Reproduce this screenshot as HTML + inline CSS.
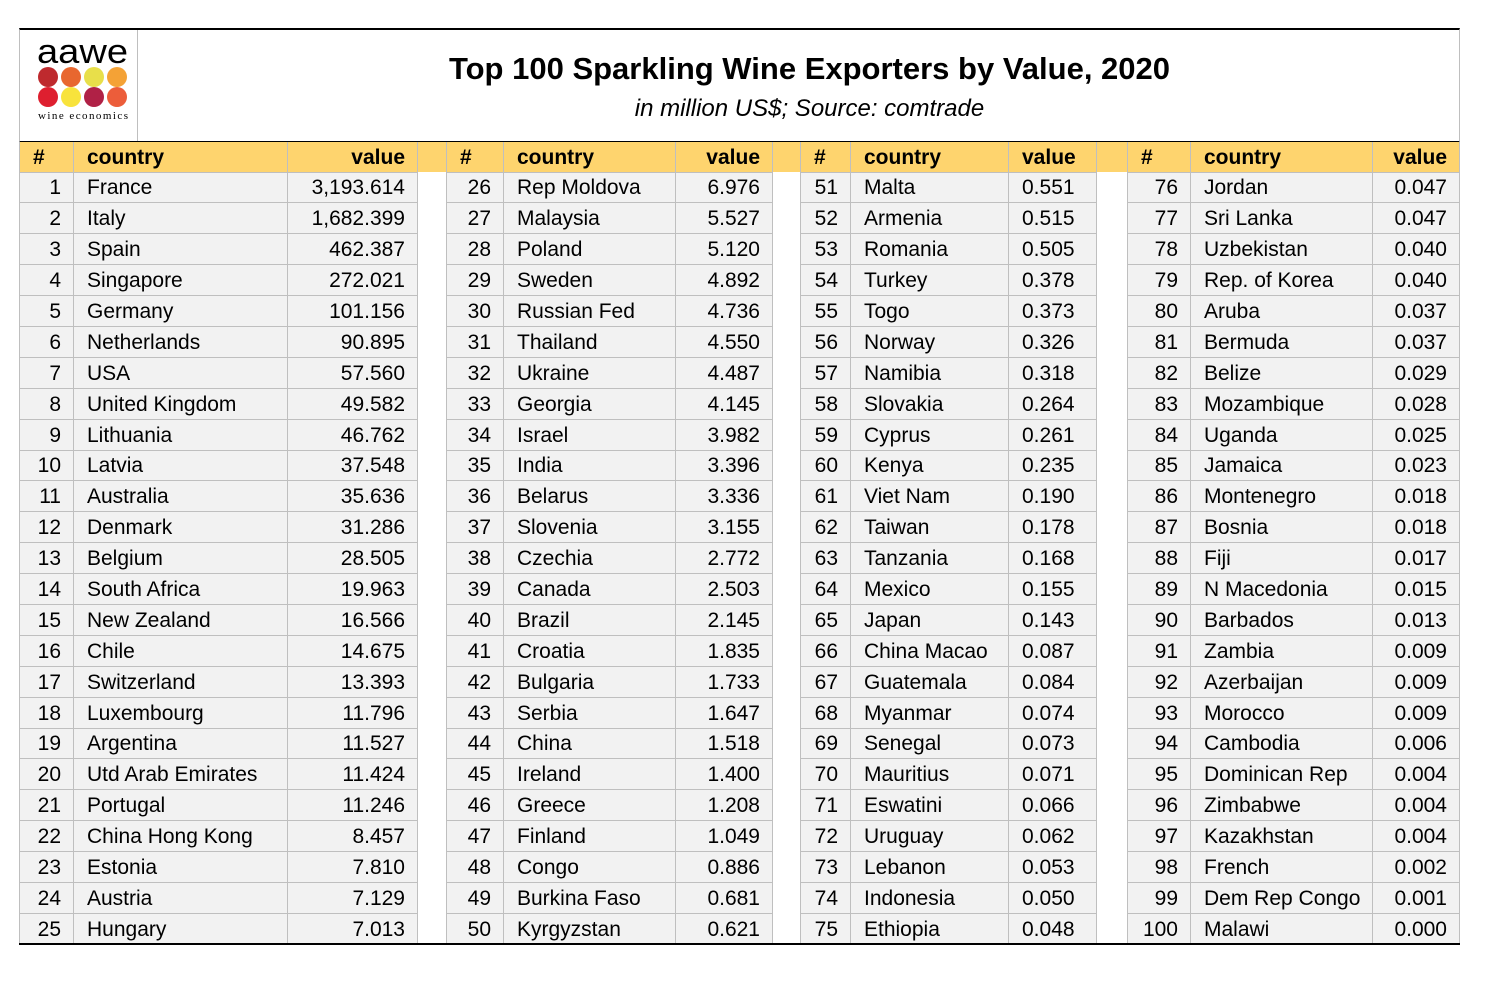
<!DOCTYPE html>
<html><head><meta charset="utf-8"><style>
body{margin:0;width:1492px;height:994px;background:#fff;position:relative;font-family:"Liberation Sans",sans-serif;overflow:hidden}
#top{position:absolute;left:19px;top:28px;width:1439px;height:111px;border-top:2px solid #000;border-left:1px solid #bfbfbf;border-right:1px solid #bfbfbf;border-bottom:2px solid #000}
#logo{position:absolute;left:0;top:0;width:117px;height:111px;border-right:1px solid #bfbfbf}
#t1{position:absolute;left:0;width:1439px;top:21px;text-align:center;font-weight:bold;font-size:31px;letter-spacing:0;padding-left:140px;box-sizing:border-box}
#t2{position:absolute;left:0;width:1439px;top:65px;text-align:center;font-style:italic;font-size:24px;padding-left:140px;box-sizing:border-box}
table{position:absolute;left:19px;top:142px;border-collapse:collapse;table-layout:fixed;width:1441px;font-size:21px;border-bottom:2px solid #000}
td{border:1px solid #bfbfbf;height:29.9px;padding:2px 12px 0 13px;box-sizing:border-box;background:#f2f2f2;white-space:nowrap;overflow:hidden;line-height:20px}
tr.h td{background:#fed46e;font-weight:bold;height:30px;border-top:none}
td{height:30.9px}
td.g{background:#fff;border-top:none;border-bottom:none}
td.n,td.v{text-align:right}
</style></head><body>
<div id="top">
<div id="logo">
<svg width="117" height="111" viewBox="0 0 117 111">
<text x="17" y="33" font-family="Liberation Sans" font-size="34" textLength="91" lengthAdjust="spacingAndGlyphs">aawe</text>
<circle cx="28" cy="47" r="10" fill="#be2a2e"/><circle cx="51" cy="47" r="10" fill="#e8672f"/><circle cx="74" cy="47" r="10" fill="#e8df4a"/><circle cx="97" cy="47" r="10" fill="#f4a236"/>
<circle cx="28" cy="67" r="10" fill="#de1f2f"/><circle cx="51" cy="67" r="10" fill="#f8e33c"/><circle cx="74" cy="67" r="10" fill="#b02146"/><circle cx="97" cy="67" r="10" fill="#ec5d3a"/>
<text x="18" y="89" font-family="Liberation Serif" font-size="11" textLength="90">wine economics</text>
</svg></div>
<div id="t1">Top 100 Sparkling Wine Exporters by Value, 2020</div>
<div id="t2">in million US$; Source: comtrade</div>
</div>
<table>
<colgroup><col style="width:54px"><col style="width:214px"><col style="width:130px"><col style="width:29px"><col style="width:57px"><col style="width:172px"><col style="width:97px"><col style="width:28px"><col style="width:50px"><col style="width:158px"><col style="width:88px"><col style="width:31px"><col style="width:63px"><col style="width:182px"><col style="width:87px"></colgroup>
<tr class="h"><td>#</td><td>country</td><td class="v">value</td><td class="g"></td><td>#</td><td>country</td><td class="v">value</td><td class="g"></td><td>#</td><td>country</td><td>value</td><td class="g"></td><td>#</td><td>country</td><td class="v">value</td></tr>
<tr><td class="n">1</td><td>France</td><td class="v">3,193.614</td><td class="g"></td><td class="n">26</td><td>Rep Moldova</td><td class="v">6.976</td><td class="g"></td><td class="n">51</td><td>Malta</td><td>0.551</td><td class="g"></td><td class="n">76</td><td>Jordan</td><td class="v">0.047</td></tr>
<tr><td class="n">2</td><td>Italy</td><td class="v">1,682.399</td><td class="g"></td><td class="n">27</td><td>Malaysia</td><td class="v">5.527</td><td class="g"></td><td class="n">52</td><td>Armenia</td><td>0.515</td><td class="g"></td><td class="n">77</td><td>Sri Lanka</td><td class="v">0.047</td></tr>
<tr><td class="n">3</td><td>Spain</td><td class="v">462.387</td><td class="g"></td><td class="n">28</td><td>Poland</td><td class="v">5.120</td><td class="g"></td><td class="n">53</td><td>Romania</td><td>0.505</td><td class="g"></td><td class="n">78</td><td>Uzbekistan</td><td class="v">0.040</td></tr>
<tr><td class="n">4</td><td>Singapore</td><td class="v">272.021</td><td class="g"></td><td class="n">29</td><td>Sweden</td><td class="v">4.892</td><td class="g"></td><td class="n">54</td><td>Turkey</td><td>0.378</td><td class="g"></td><td class="n">79</td><td>Rep. of Korea</td><td class="v">0.040</td></tr>
<tr><td class="n">5</td><td>Germany</td><td class="v">101.156</td><td class="g"></td><td class="n">30</td><td>Russian Fed</td><td class="v">4.736</td><td class="g"></td><td class="n">55</td><td>Togo</td><td>0.373</td><td class="g"></td><td class="n">80</td><td>Aruba</td><td class="v">0.037</td></tr>
<tr><td class="n">6</td><td>Netherlands</td><td class="v">90.895</td><td class="g"></td><td class="n">31</td><td>Thailand</td><td class="v">4.550</td><td class="g"></td><td class="n">56</td><td>Norway</td><td>0.326</td><td class="g"></td><td class="n">81</td><td>Bermuda</td><td class="v">0.037</td></tr>
<tr><td class="n">7</td><td>USA</td><td class="v">57.560</td><td class="g"></td><td class="n">32</td><td>Ukraine</td><td class="v">4.487</td><td class="g"></td><td class="n">57</td><td>Namibia</td><td>0.318</td><td class="g"></td><td class="n">82</td><td>Belize</td><td class="v">0.029</td></tr>
<tr><td class="n">8</td><td>United Kingdom</td><td class="v">49.582</td><td class="g"></td><td class="n">33</td><td>Georgia</td><td class="v">4.145</td><td class="g"></td><td class="n">58</td><td>Slovakia</td><td>0.264</td><td class="g"></td><td class="n">83</td><td>Mozambique</td><td class="v">0.028</td></tr>
<tr><td class="n">9</td><td>Lithuania</td><td class="v">46.762</td><td class="g"></td><td class="n">34</td><td>Israel</td><td class="v">3.982</td><td class="g"></td><td class="n">59</td><td>Cyprus</td><td>0.261</td><td class="g"></td><td class="n">84</td><td>Uganda</td><td class="v">0.025</td></tr>
<tr><td class="n">10</td><td>Latvia</td><td class="v">37.548</td><td class="g"></td><td class="n">35</td><td>India</td><td class="v">3.396</td><td class="g"></td><td class="n">60</td><td>Kenya</td><td>0.235</td><td class="g"></td><td class="n">85</td><td>Jamaica</td><td class="v">0.023</td></tr>
<tr><td class="n">11</td><td>Australia</td><td class="v">35.636</td><td class="g"></td><td class="n">36</td><td>Belarus</td><td class="v">3.336</td><td class="g"></td><td class="n">61</td><td>Viet Nam</td><td>0.190</td><td class="g"></td><td class="n">86</td><td>Montenegro</td><td class="v">0.018</td></tr>
<tr><td class="n">12</td><td>Denmark</td><td class="v">31.286</td><td class="g"></td><td class="n">37</td><td>Slovenia</td><td class="v">3.155</td><td class="g"></td><td class="n">62</td><td>Taiwan</td><td>0.178</td><td class="g"></td><td class="n">87</td><td>Bosnia</td><td class="v">0.018</td></tr>
<tr><td class="n">13</td><td>Belgium</td><td class="v">28.505</td><td class="g"></td><td class="n">38</td><td>Czechia</td><td class="v">2.772</td><td class="g"></td><td class="n">63</td><td>Tanzania</td><td>0.168</td><td class="g"></td><td class="n">88</td><td>Fiji</td><td class="v">0.017</td></tr>
<tr><td class="n">14</td><td>South Africa</td><td class="v">19.963</td><td class="g"></td><td class="n">39</td><td>Canada</td><td class="v">2.503</td><td class="g"></td><td class="n">64</td><td>Mexico</td><td>0.155</td><td class="g"></td><td class="n">89</td><td>N Macedonia</td><td class="v">0.015</td></tr>
<tr><td class="n">15</td><td>New Zealand</td><td class="v">16.566</td><td class="g"></td><td class="n">40</td><td>Brazil</td><td class="v">2.145</td><td class="g"></td><td class="n">65</td><td>Japan</td><td>0.143</td><td class="g"></td><td class="n">90</td><td>Barbados</td><td class="v">0.013</td></tr>
<tr><td class="n">16</td><td>Chile</td><td class="v">14.675</td><td class="g"></td><td class="n">41</td><td>Croatia</td><td class="v">1.835</td><td class="g"></td><td class="n">66</td><td>China Macao</td><td>0.087</td><td class="g"></td><td class="n">91</td><td>Zambia</td><td class="v">0.009</td></tr>
<tr><td class="n">17</td><td>Switzerland</td><td class="v">13.393</td><td class="g"></td><td class="n">42</td><td>Bulgaria</td><td class="v">1.733</td><td class="g"></td><td class="n">67</td><td>Guatemala</td><td>0.084</td><td class="g"></td><td class="n">92</td><td>Azerbaijan</td><td class="v">0.009</td></tr>
<tr><td class="n">18</td><td>Luxembourg</td><td class="v">11.796</td><td class="g"></td><td class="n">43</td><td>Serbia</td><td class="v">1.647</td><td class="g"></td><td class="n">68</td><td>Myanmar</td><td>0.074</td><td class="g"></td><td class="n">93</td><td>Morocco</td><td class="v">0.009</td></tr>
<tr><td class="n">19</td><td>Argentina</td><td class="v">11.527</td><td class="g"></td><td class="n">44</td><td>China</td><td class="v">1.518</td><td class="g"></td><td class="n">69</td><td>Senegal</td><td>0.073</td><td class="g"></td><td class="n">94</td><td>Cambodia</td><td class="v">0.006</td></tr>
<tr><td class="n">20</td><td>Utd Arab Emirates</td><td class="v">11.424</td><td class="g"></td><td class="n">45</td><td>Ireland</td><td class="v">1.400</td><td class="g"></td><td class="n">70</td><td>Mauritius</td><td>0.071</td><td class="g"></td><td class="n">95</td><td>Dominican Rep</td><td class="v">0.004</td></tr>
<tr><td class="n">21</td><td>Portugal</td><td class="v">11.246</td><td class="g"></td><td class="n">46</td><td>Greece</td><td class="v">1.208</td><td class="g"></td><td class="n">71</td><td>Eswatini</td><td>0.066</td><td class="g"></td><td class="n">96</td><td>Zimbabwe</td><td class="v">0.004</td></tr>
<tr><td class="n">22</td><td>China Hong Kong</td><td class="v">8.457</td><td class="g"></td><td class="n">47</td><td>Finland</td><td class="v">1.049</td><td class="g"></td><td class="n">72</td><td>Uruguay</td><td>0.062</td><td class="g"></td><td class="n">97</td><td>Kazakhstan</td><td class="v">0.004</td></tr>
<tr><td class="n">23</td><td>Estonia</td><td class="v">7.810</td><td class="g"></td><td class="n">48</td><td>Congo</td><td class="v">0.886</td><td class="g"></td><td class="n">73</td><td>Lebanon</td><td>0.053</td><td class="g"></td><td class="n">98</td><td>French</td><td class="v">0.002</td></tr>
<tr><td class="n">24</td><td>Austria</td><td class="v">7.129</td><td class="g"></td><td class="n">49</td><td>Burkina Faso</td><td class="v">0.681</td><td class="g"></td><td class="n">74</td><td>Indonesia</td><td>0.050</td><td class="g"></td><td class="n">99</td><td>Dem Rep Congo</td><td class="v">0.001</td></tr>
<tr><td class="n">25</td><td>Hungary</td><td class="v">7.013</td><td class="g"></td><td class="n">50</td><td>Kyrgyzstan</td><td class="v">0.621</td><td class="g"></td><td class="n">75</td><td>Ethiopia</td><td>0.048</td><td class="g"></td><td class="n">100</td><td>Malawi</td><td class="v">0.000</td></tr>
</table>
</body></html>
